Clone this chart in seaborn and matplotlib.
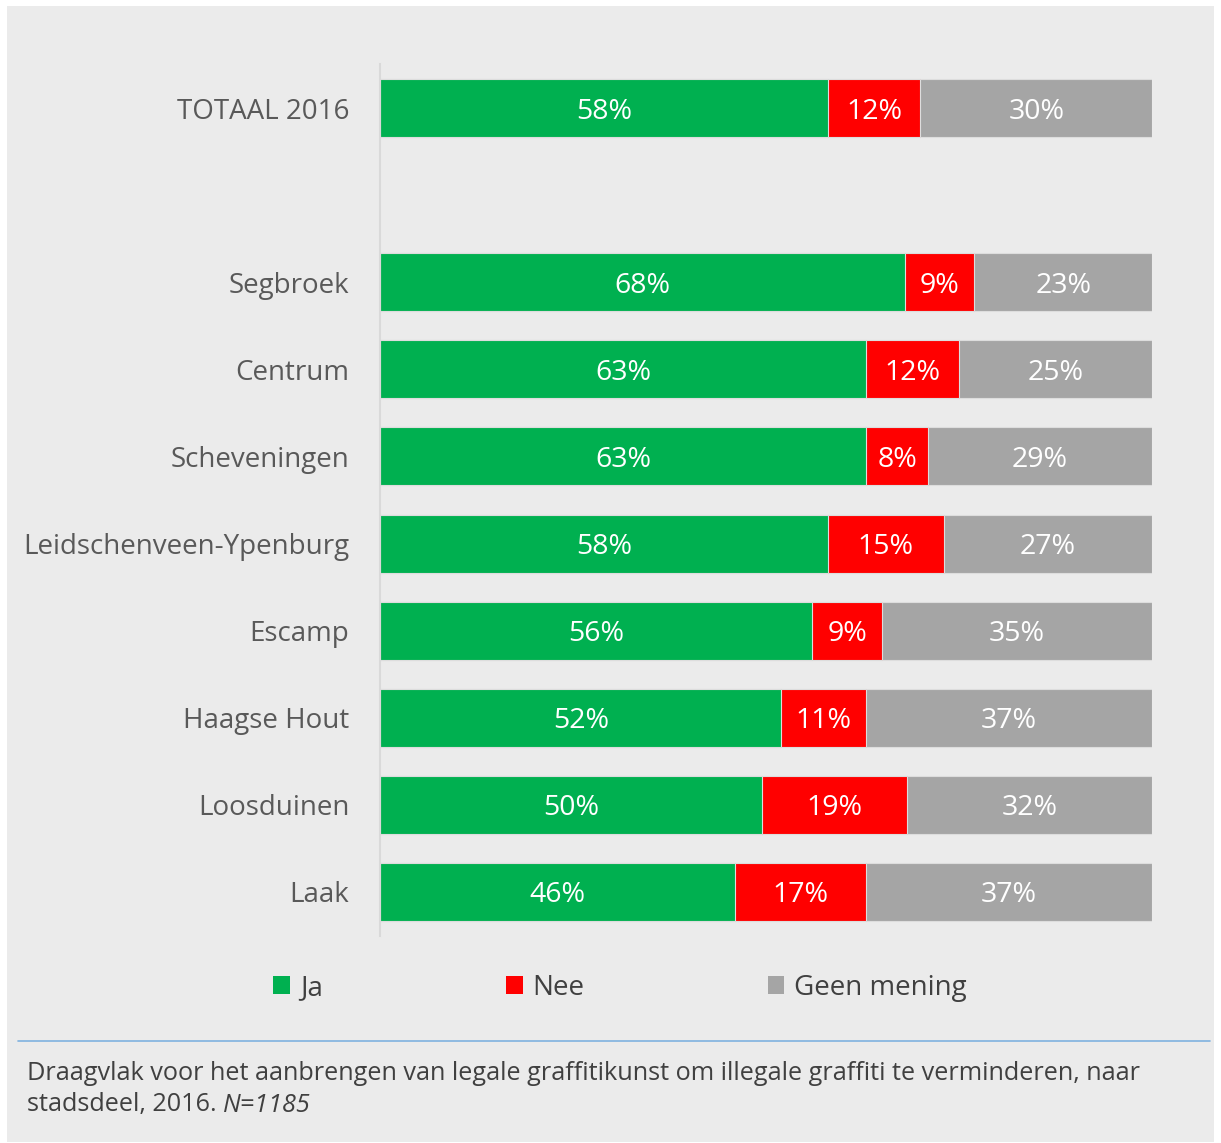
import matplotlib
matplotlib.use("Agg")
import matplotlib.pyplot as plt
import seaborn as sns
import pandas as pd
import numpy as np
from matplotlib.patches import Rectangle, Patch
from matplotlib.lines import Line2D

categories = ["TOTAAL 2016", " ", "Segbroek", "Centrum", "Scheveningen",
              "Leidschenveen-Ypenburg", "Escamp", "Haagse Hout", "Loosduinen", "Laak"]
ja = [58, np.nan, 68, 63, 63, 58, 56, 52, 50, 46]
nee = [12, np.nan, 9, 12, 8, 15, 9, 11, 19, 17]
geen = [30, np.nan, 23, 25, 29, 27, 35, 37, 32, 37]
series_names = ["Ja", "Nee", "Geen mening"]
colors = ["#00B050", "#FF0000", "#A5A5A5"]
caption1 = "Draagvlak voor het aanbrengen van legale graffitikunst om illegale graffiti te verminderen, naar"
caption2 = "stadsdeel, 2016. "
caption_n = "N=1185"

sns.set_theme(style="white")
plt.rcParams["font.family"] = ["Open Sans", "DejaVu Sans"]

df = pd.DataFrame({"cat": categories, "ja": ja, "nee": nee, "geen": geen})
tot = df[["ja", "nee", "geen"]].sum(axis=1)
df["ja_n"] = df["ja"] / tot * 100
df["nee_n"] = df["nee"] / tot * 100
df["geen_n"] = df["geen"] / tot * 100
df["c1"] = df["ja_n"]
df["c2"] = df["ja_n"] + df["nee_n"]
df["c3"] = df["c2"] + df["geen_n"]

W, H = 1221, 1143
fig = plt.figure(figsize=(W / 100, H / 100), dpi=100)
fig.patch.set_facecolor("white")
bg = fig.add_axes([7 / W, 1 - 1142 / H, (1214 - 7) / W, (1142 - 6) / H], zorder=-10)
bg.set_facecolor("#EBEBEB")
bg.set_xticks([])
bg.set_yticks([])
for s in bg.spines.values():
    s.set_visible(False)

ax = fig.add_axes([380 / W, 1 - 935.5 / H, (1152 - 380) / W, (935.5 - 64.5) / H], zorder=1)
ax.set_facecolor("none")

bw = 0.667
for col, c in zip(["c3", "c2", "c1"], colors[::-1]):
    sns.barplot(data=df, x=col, y="cat", order=categories, color=c, width=bw,
                orient="h", ax=ax, edgecolor="#DDDDDD", linewidth=0.8,
                saturation=1, errorbar=None)

for i, row in df.iterrows():
    if np.isnan(row["ja"]):
        continue
    lefts = [0, row["c1"], row["c2"]]
    widths = [row["ja_n"], row["nee_n"], row["geen_n"]]
    vals = [row["ja"], row["nee"], row["geen"]]
    for l, w, v in zip(lefts, widths, vals):
        ax.text(l + w / 2, i, f"{int(v)}%", ha="center", va="center_baseline",
                color="white", fontsize=20.5)

ax.set_xlim(0, 100)
ax.set_ylim(len(categories) - 0.5, -0.5)
ax.set_xlabel("")
ax.set_ylabel("")
ax.set_xticks([])
ax.tick_params(axis="y", length=0, pad=22, labelsize=20, labelcolor="#595959")
for s in ["top", "right", "bottom"]:
    ax.spines[s].set_visible(False)
ax.spines["left"].set_color("#D9D9D9")
ax.spines["left"].set_linewidth(1.5)

handles = [Patch(facecolor=c, edgecolor="none") for c in colors]
fig.legend(handles, series_names, loc="center", bbox_to_anchor=(620 / W, 1 - 988 / H),
           ncol=3, frameon=False, fontsize=20, labelcolor="#404040",
           handlelength=0.6, handleheight=0.6, handletextpad=0.35,
           columnspacing=6.6)

fig.lines.append(Line2D([18 / W, 1210 / W], [1 - 1041 / H, 1 - 1041 / H],
                        transform=fig.transFigure, color="#7FB2E0", linewidth=1.2))

fs_cap = 18.2
fig.text(27 / W, 1 - 1074 / H, caption1, ha="left", va="center", fontsize=fs_cap, color="#404040")
t2 = fig.text(27 / W, 1 - 1105 / H, caption2, ha="left", va="center", fontsize=fs_cap, color="#404040")
fig.canvas.draw()
bb = t2.get_window_extent(renderer=fig.canvas.get_renderer())
fig.text(bb.x1 / W, 1 - 1105 / H, caption_n, ha="left", va="center", fontsize=fs_cap,
         color="#404040", style="italic")

fig.savefig("out.png", dpi=100, facecolor="white")
